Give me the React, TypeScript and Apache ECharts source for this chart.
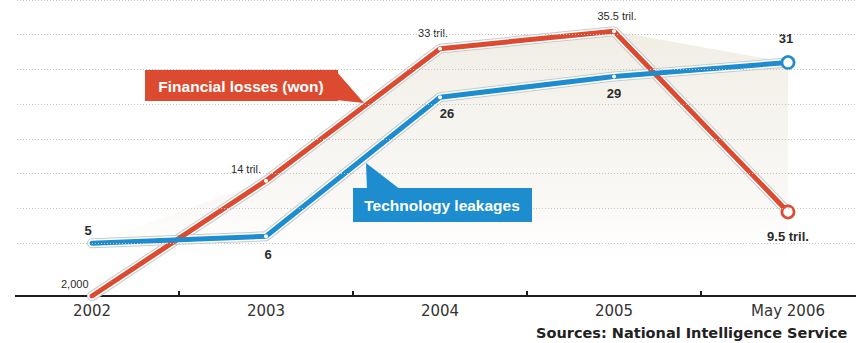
import React, { useEffect, useRef } from "react";
import * as echarts from "echarts";

// ---- data ----
const categories = ["2002", "2003", "2004", "2005", "May 2006"];
// Financial losses (trillion won); the 2002 point (2,000 bn) is drawn on the baseline
const financialLosses = [-2.6, 14, 33, 35.5, 9.5];
const financialLabels = ["2,000", "14 tril.", "33 tril.", "35.5 tril.", "9.5 tril."];
// Technology leakages (cases)
const techLeakages = [5, 6, 26, 29, 31];
const techLabels = ["5", "6", "26", "29", "31"];
// dotted guide lines
const gridValues = [5, 10, 15, 20, 25, 30, 35, 40];
const sourceText = "Sources: National Intelligence Service";

// ---- styles ----
const RED = "#dc4a2f";
const BLUE = "#1d8dd0";
const HALO = "#c5cbcf";
const TEXT = "#2b2b2b";
const FONT = "Liberation Sans, Arial, sans-serif";
const VFONT = "DejaVu Sans, Verdana, sans-serif";

const redLabelCfg: any[] = [
  { position: "left", distance: 3, offset: [0, -12], fontSize: 11, fontWeight: "normal" },
  { position: "left", distance: 3, offset: [0, -12], fontSize: 11, fontWeight: "normal" },
  { position: "top", distance: 5, offset: [-7, -3], fontSize: 11, fontWeight: "normal" },
  { position: "top", distance: 5, offset: [3, -3], fontSize: 11, fontWeight: "normal" },
  { position: "bottom", distance: 11, offset: [0, 0], fontSize: 13, fontWeight: "bold" },
];
const blueLabelCfg: any[] = [
  { position: "top", distance: 6, offset: [-4, 0] },
  { position: "bottom", distance: 10, offset: [2, 0] },
  { position: "bottom", distance: 8, offset: [7, 0] },
  { position: "bottom", distance: 9, offset: [0, 0] },
  { position: "top", distance: 10, offset: [-2, 0] },
];

function coreData(values: number[], labels: string[], cfg: any[], color: string, boldAll: boolean) {
  const last = values.length - 1;
  return values.map((v, i) => {
    const c = cfg[i];
    const item: any = {
      value: v,
      label: {
        show: true,
        formatter: labels[i],
        position: c.position,
        distance: c.distance,
        offset: c.offset,
        color: TEXT,
        fontFamily: FONT,
        fontSize: boldAll ? 13 : c.fontSize,
        fontWeight: boldAll ? "bold" : c.fontWeight,
      },
    };
    if (i === 0) {
      item.symbol = "circle";
      item.symbolSize = 1;
      item.itemStyle = { color: "rgba(0,0,0,0)", borderWidth: 0 };
    } else if (i === last) {
      item.symbol = "circle";
      item.symbolSize = 12;
      item.itemStyle = { color: "#fff", borderColor: color, borderWidth: 2.5 };
    } else {
      item.symbol = "circle";
      item.symbolSize = 4;
      item.itemStyle = { color: "#fff", borderWidth: 0 };
    }
    return item;
  });
}

function haloData(values: number[]) {
  const last = values.length - 1;
  return values.map((v, i) =>
    i === last
      ? { value: v, symbol: "circle", symbolSize: 15, itemStyle: { color: HALO } }
      : { value: v, symbol: "none" }
  );
}

function lineLayers(name: string, values: number[], labels: string[], cfg: any[], color: string, boldAll: boolean) {
  return [
    {
      type: "line",
      name: name + "-halo",
      data: haloData(values),
      lineStyle: { color: HALO, width: 10, cap: "round" },
      itemStyle: { color: HALO },
      silent: true,
      z: 3,
    },
    {
      type: "line",
      name: name + "-white",
      data: values,
      symbol: "none",
      lineStyle: { color: "#ffffff", width: 8, cap: "round" },
      silent: true,
      z: 3,
    },
    {
      type: "line",
      name,
      data: coreData(values, labels, cfg, color, boldAll),
      lineStyle: { color, width: 5, cap: "round" },
      itemStyle: { color },
      z: 4,
    },
  ];
}

export default function App() {
  const ref = useRef<HTMLDivElement>(null);
  useEffect(() => {
    if (!ref.current) return;
    const chart = echarts.init(ref.current, undefined, { renderer: "svg" });
    const envelope = financialLosses.map((v, i) => Math.max(v, techLeakages[i]));
    chart.setOption({
      animation: false,
      backgroundColor: "#ffffff",
      // the plot's last band runs past the photographed 856px edge
      grid: { left: 5, top: 0, width: 870, height: 296 },
      xAxis: {
        type: "category",
        data: categories,
        boundaryGap: true,
        axisLine: { show: true, onZero: false, lineStyle: { color: "#1e1e1e", width: 2 } },
        axisTick: { show: true, inside: true, length: 5, lineStyle: { color: "#1e1e1e", width: 2 } },
        axisLabel: { color: "#333", fontFamily: VFONT, fontSize: 15, margin: 7 },
        splitLine: { show: false },
      },
      yAxis: {
        type: "value",
        min: -2.6,
        max: 40,
        show: false,
        splitLine: { show: false },
      },
      series: [
        {
          type: "line",
          name: "area",
          data: envelope,
          symbol: "none",
          lineStyle: { width: 0, opacity: 0 },
          silent: true,
          z: 1,
          areaStyle: {
            color: new echarts.graphic.LinearGradient(0, 0, 0, 1, [
              { offset: 0, color: "rgba(232,226,212,0.85)" },
              { offset: 0.7, color: "rgba(240,236,228,0.5)" },
              { offset: 1, color: "rgba(255,255,255,0)" },
            ]),
          },
          markLine: {
            silent: true,
            symbol: ["none", "none"],
            label: { show: false },
            lineStyle: { color: "#c4c4c4", width: 1, type: [1, 2] },
            data: gridValues.map((v) => ({ yAxis: v })),
          },
        },
        ...lineLayers("Financial losses (won)", financialLosses, financialLabels, redLabelCfg, RED, false),
        ...lineLayers("Technology leakages", techLeakages, techLabels, blueLabelCfg, BLUE, true),
      ],
      graphic: [
        {
          type: "rect",
          z: 100,
          shape: { x: 0, y: 0, width: 15, height: 300 },
          style: { fill: "#ffffff" },
        },
        { type: "polygon", z: 110, shape: { points: [[336, 71], [364, 103], [336, 100]] }, style: { fill: RED } },
        { type: "rect", z: 110, shape: { x: 145, y: 70, width: 193, height: 31 }, style: { fill: RED } },
        {
          type: "text",
          z: 111,
          x: 241,
          y: 86,
          style: {
            text: "Financial losses (won)",
            fill: "#fff",
            font: "bold 15.5px " + FONT,
            align: "center",
            verticalAlign: "middle",
          },
        },
        { type: "polygon", z: 110, shape: { points: [[367, 190], [401, 190], [366, 163]] }, style: { fill: BLUE } },
        { type: "rect", z: 110, shape: { x: 353, y: 188, width: 179, height: 34 }, style: { fill: BLUE } },
        {
          type: "text",
          z: 111,
          x: 442,
          y: 205,
          style: {
            text: "Technology leakages",
            fill: "#fff",
            font: "bold 15.5px " + FONT,
            align: "center",
            verticalAlign: "middle",
          },
        },
        {
          type: "text",
          z: 110,
          x: 536,
          y: 333,
          style: {
            text: sourceText,
            fill: "#222",
            font: "bold 14.5px " + VFONT,
            align: "left",
            verticalAlign: "middle",
          },
        },
      ],
    });
    return () => chart.dispose();
  }, []);
  return (
    <div style={{ position: "fixed", left: 0, top: 0, width: 856, height: 343, overflow: "hidden", background: "#fff" }}>
      <div ref={ref} style={{ width: 880, height: 343 }} />
    </div>
  );
}
